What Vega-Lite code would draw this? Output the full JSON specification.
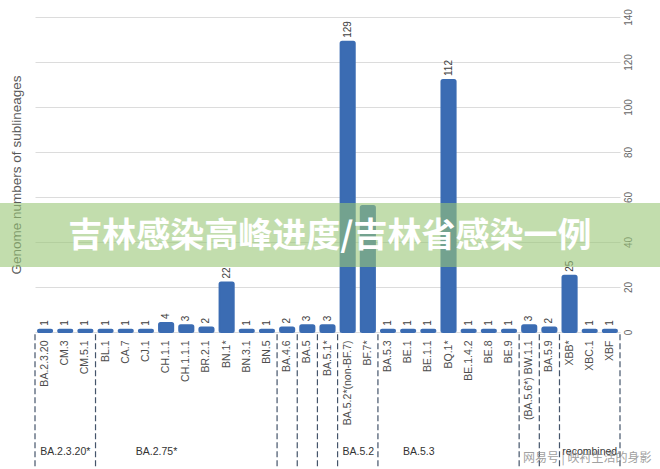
{
  "$schema": "https://vega.github.io/schema/vega-lite/v6.json",
  "width": 585,
  "height": 315,
  "autosize": {"type": "none"},
  "padding": {"left": 35, "top": 17, "right": 40, "bottom": 137},
  "background": "white",
  "config": {"view": {"stroke": null}, "font": "Liberation Sans"},
  "datasets": {
    "bars": [
      {"lineage": "BA.2.3.20", "count": 1},
      {"lineage": "CM.3", "count": 1},
      {"lineage": "CM.5.1", "count": 1},
      {"lineage": "BL.1", "count": 1},
      {"lineage": "CA.7", "count": 1},
      {"lineage": "CJ.1", "count": 1},
      {"lineage": "CH.1.1", "count": 4},
      {"lineage": "CH.1.1.1", "count": 3},
      {"lineage": "BR.2.1", "count": 2},
      {"lineage": "BN.1*", "count": 22},
      {"lineage": "BN.3.1", "count": 1},
      {"lineage": "BN.5", "count": 1},
      {"lineage": "BA.4.6", "count": 2},
      {"lineage": "BA.5", "count": 3},
      {"lineage": "BA.5.1*", "count": 3},
      {"lineage": "BA.5.2*(non-BF.7)", "count": 129},
      {"lineage": "BF.7*", "count": 56},
      {"lineage": "BA.5.3", "count": 1},
      {"lineage": "BE.1", "count": 1},
      {"lineage": "BE.1.1", "count": 1},
      {"lineage": "BQ.1*", "count": 112},
      {"lineage": "BE.1.4.2", "count": 1},
      {"lineage": "BE.8", "count": 1},
      {"lineage": "BE.9", "count": 1},
      {"lineage": "(BA.5.6*) BW.1.1", "count": 3},
      {"lineage": "BA.5.9", "count": 2},
      {"lineage": "XBB*", "count": 25},
      {"lineage": "XBC.1", "count": 1},
      {"lineage": "XBF", "count": 1}
    ],
    "splits": [
      {"lineage": "BA.2.3.20"},
      {"lineage": "BL.1"},
      {"lineage": "BA.4.6"},
      {"lineage": "BA.5"},
      {"lineage": "BA.5.1*"},
      {"lineage": "BA.5.2*(non-BF.7)"},
      {"lineage": "BA.5.3"},
      {"lineage": "(BA.5.6*) BW.1.1"},
      {"lineage": "BA.5.9"},
      {"lineage": "XBB*"}
    ],
    "splitEnd": [{"lineage": "XBF"}],
    "groupsMid": [
      {"group": "BA.2.3.20*", "lineage": "CM.3"},
      {"group": "recombined", "lineage": "XBC.1"}
    ],
    "groupsOff": [
      {"group": "BA.2.75*", "lineage": "CJ.1"},
      {"group": "BA.5.2", "lineage": "BA.5.2*(non-BF.7)"},
      {"group": "BA.5.3", "lineage": "BE.1"}
    ],
    "banner": [{"text": "吉林感染高峰进度/吉林省感染一例", "mark": "网易号 | 映衬生活的身影"}]
  },
  "layer": [
    {
      "layer": [
        {
          "data": {"name": "bars"},
          "mark": {"type": "bar", "color": "#3b6cb3", "stroke": "#3b6cb3", "strokeWidth": 2, "cornerRadius": 1.5},
          "encoding": {
            "x": {
              "field": "lineage", "type": "nominal",
              "scale": {"domain": ["BA.2.3.20","CM.3","CM.5.1","BL.1","CA.7","CJ.1","CH.1.1","CH.1.1.1","BR.2.1","BN.1*","BN.3.1","BN.5","BA.4.6","BA.5","BA.5.1*","BA.5.2*(non-BF.7)","BF.7*","BA.5.3","BE.1","BE.1.1","BQ.1*","BE.1.4.2","BE.8","BE.9","(BA.5.6*) BW.1.1","BA.5.9","XBB*","XBC.1","XBF"], "paddingInner": 0.3, "paddingOuter": 0.15},
              "axis": {"title": null, "orient": "bottom", "labelAngle": -90, "labelAlign": "right", "labelBaseline": "middle", "labelFontSize": 10.5, "labelColor": "#4d4d4d", "labelPadding": 8, "ticks": false, "domain": false, "labelLimit": 200}
            },
            "y": {
              "field": "count", "type": "quantitative",
              "scale": {"domain": [0, 140], "nice": false},
              "axis": {"orient": "right", "values": [0,20,40,60,80,100,120,140], "title": null, "labelAngle": -90, "labelAlign": "center", "labelBaseline": "top", "labelPadding": 3, "ticks": false, "domain": false, "grid": true, "gridColor": "#dcdcdc", "labelColor": "#666666", "labelFontSize": 10}
            }
          }
        },
        {
          "data": {"name": "bars"},
          "transform": [{"filter": "datum.lineage !== 'BF.7*'"}],
          "mark": {"type": "text", "angle": 270, "align": "left", "baseline": "middle", "dx": 4, "fontSize": 10, "color": "#404040"},
          "encoding": {
            "x": {"field": "lineage", "type": "nominal"},
            "y": {"field": "count", "type": "quantitative", "scale": {"domain": [0, 140], "nice": false}, "axis": null},
            "text": {"field": "count", "type": "quantitative"}
          }
        },
        {
          "data": {"name": "splits"},
          "mark": {"type": "rule", "color": "#44546a", "strokeWidth": 1.2, "strokeDash": [6, 3]},
          "encoding": {
            "x": {"field": "lineage", "type": "nominal", "bandPosition": -0.214},
            "y": {"datum": -1, "type": "quantitative", "scale": {"domain": [0, 140], "nice": false},
              "axis": {"orient": "left", "title": "Genome numbers of sublineages", "labels": false, "ticks": false, "domain": false, "grid": false, "titleFontSize": 13.5, "titleFontWeight": "normal", "titleColor": "#595959", "titlePadding": 12}},
            "y2": {"datum": -62}
          }
        },
        {
          "data": {"name": "splitEnd"},
          "mark": {"type": "rule", "color": "#44546a", "strokeWidth": 1.2, "strokeDash": [6, 3]},
          "encoding": {
            "x": {"field": "lineage", "type": "nominal", "bandPosition": 1.214},
            "y": {"datum": -1, "type": "quantitative", "scale": {"domain": [0, 140], "nice": false}, "axis": null},
            "y2": {"datum": -62}
          }
        },
        {
          "data": {"name": "groupsMid"},
          "mark": {"type": "text", "align": "center", "baseline": "middle", "fontSize": 10.5, "color": "#333333"},
          "encoding": {
            "x": {"field": "lineage", "type": "nominal"},
            "y": {"datum": -53.5, "type": "quantitative", "scale": {"domain": [0, 140], "nice": false}, "axis": null},
            "text": {"field": "group", "type": "nominal"}
          }
        },
        {
          "data": {"name": "groupsOff"},
          "mark": {"type": "text", "align": "center", "baseline": "middle", "fontSize": 10.5, "color": "#333333"},
          "encoding": {
            "x": {"field": "lineage", "type": "nominal", "bandPosition": 1.25},
            "y": {"datum": -53.5, "type": "quantitative", "scale": {"domain": [0, 140], "nice": false}, "axis": null},
            "text": {"field": "group", "type": "nominal"}
          }
        }
      ],
      "resolve": {"axis": {"y": "independent"}}
    },
    {
      "data": {"name": "banner"},
      "layer": [
        {
          "mark": {"type": "rect", "color": "#99c677", "opacity": 0.6},
          "encoding": {
            "x": {"datum": -0.06, "type": "quantitative", "scale": {"domain": [0, 1], "nice": false, "zero": false}, "axis": null},
            "x2": {"datum": 1.07},
            "y": {"datum": 57.3, "type": "quantitative", "scale": {"domain": [0, 140], "nice": false}, "axis": null},
            "y2": {"datum": 28.9}
          }
        },
        {
          "mark": {"type": "text", "align": "center", "baseline": "middle", "font": "Noto Sans CJK SC", "fontSize": 34, "fontWeight": "bold", "color": "white"},
          "encoding": {
            "x": {"datum": 0.504, "type": "quantitative", "scale": {"domain": [0, 1], "nice": false, "zero": false}, "axis": null},
            "y": {"datum": 42.3, "type": "quantitative", "scale": {"domain": [0, 140], "nice": false}, "axis": null},
            "text": {"field": "text", "type": "nominal"}
          }
        },
        {
          "mark": {"type": "text", "align": "center", "baseline": "middle", "font": "Noto Sans CJK SC", "fontSize": 12, "color": "#8a8a8a", "opacity": 0.8},
          "encoding": {
            "x": {"datum": 0.944, "type": "quantitative", "scale": {"domain": [0, 1], "nice": false, "zero": false}, "axis": null},
            "y": {"datum": -56, "type": "quantitative", "scale": {"domain": [0, 140], "nice": false}, "axis": null},
            "text": {"field": "mark", "type": "nominal"}
          }
        }
      ]
    }
  ],
  "resolve": {"scale": {"x": "independent"}}
}
